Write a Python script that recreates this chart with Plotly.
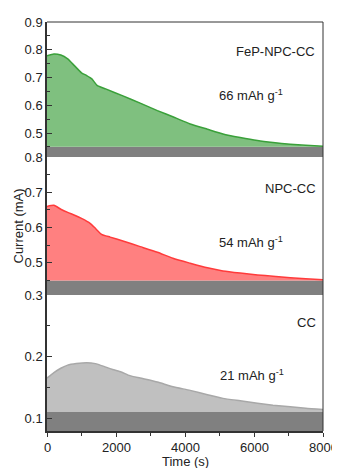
import plotly.graph_objects as go

# ---------------- data ----------------
t_fep = [0, 200, 400, 600, 800, 1000, 1150, 1300, 1450, 1700, 2200, 2700, 3200, 3700,
         4150, 4650, 5100, 5600, 6100, 6550, 7050, 7500, 8000]
i_fep = [0.778, 0.785, 0.781, 0.767, 0.742, 0.717, 0.707, 0.695, 0.672, 0.659, 0.634,
         0.608, 0.581, 0.556, 0.533, 0.514, 0.497, 0.484, 0.473, 0.466, 0.460, 0.456, 0.453]

t_npc = [0, 200, 400, 600, 800, 1000, 1250, 1400, 1580, 1830, 2200, 2700, 3200, 3650,
         4150, 4650, 5100, 5600, 6100, 6550, 7050, 7500, 8000]
i_npc = [0.660, 0.663, 0.652, 0.643, 0.635, 0.626, 0.612, 0.598, 0.581, 0.573, 0.562,
         0.546, 0.530, 0.513, 0.499, 0.486, 0.477, 0.471, 0.466, 0.462, 0.458, 0.455, 0.452]

t_cc = [0, 200, 400, 600, 850, 1150, 1400, 1650, 1900, 2150, 2400, 2700, 3200, 3650,
        4150, 4650, 5100, 5600, 6100, 6550, 7050, 7500, 8000]
i_cc = [0.165, 0.174, 0.181, 0.186, 0.1885, 0.190, 0.1885, 0.184, 0.179, 0.175, 0.169,
        0.165, 0.1585, 0.151, 0.145, 0.138, 0.132, 0.128, 0.124, 0.121, 0.1185, 0.116, 0.114]

names = ["FeP-NPC-CC", "NPC-CC", "CC"]
capacities = ["66 mAh g<sup>-1</sup>", "54 mAh g<sup>-1</sup>", "21 mAh g<sup>-1</sup>"]
y_ranges = [[0.414, 0.9], [0.409, 0.8], [0.079, 0.3]]
band_tops = [0.451, 0.450, 0.110]
x_ticks = [0, 2000, 4000, 6000, 8000]
x_tick_labels = ["0", "2000", "4000", "6000", "8000"]
x_title = "Time (s)"
y_title = "Current (mA)"

# ---------------- style ----------------
FONT = "Arial, Liberation Sans, sans-serif"
line_colors = ["#3aa03a", "#ff3b3b", "#a8a8a8"]
fill_colors = ["rgba(127,192,127,1)", "rgba(255,128,128,1)", "rgba(192,192,192,1)"]
band_color = "#808080"
axis_color = "#333333"
txt = dict(family=FONT, size=13, color="#222")
PLOT_H = 409  # plot-area height in px
PLOT_W = 276  # plot-area width in px

series = [(t_fep, i_fep), (t_npc, i_npc), (t_cc, i_cc)]
yrefs = ["y", "y2", "y3"]
domains = [[0.670, 1.0], [0.3325, 0.670], [0.0, 0.3325]]

fig = go.Figure()
shapes = []
annotations = []
for k, ((t, v), yr) in enumerate(zip(series, yrefs)):
    # invisible baseline at the band top
    fig.add_trace(go.Scatter(x=t, y=[band_tops[k]] * len(t), yaxis=yr, mode="lines",
                             line=dict(width=0, color="rgba(0,0,0,0)"),
                             hoverinfo="skip", showlegend=False))
    fig.add_trace(go.Scatter(x=t, y=v, yaxis=yr, mode="lines", name=names[k],
                             line=dict(color=line_colors[k], width=1.5, shape="spline",
                                       smoothing=0.5),
                             fill="tonexty", fillcolor=fill_colors[k], showlegend=False))
    shapes.append(dict(type="rect", xref="x", yref=yr, x0=0, x1=8000,
                       y0=y_ranges[k][0], y1=band_tops[k], fillcolor=band_color,
                       line=dict(width=0), layer="below"))

# annotation positions (data coords of each panel)
lab_pos = [(7830, 0.792), (7855, 0.712), (7855, 0.256)]
cap_pos = [(4930, 0.637), (4930, 0.559), (4950, 0.170)]
for k in range(3):
    annotations.append(dict(x=lab_pos[k][0], y=lab_pos[k][1], xref="x", yref=yrefs[k],
                            text=names[k], showarrow=False, xanchor="right",
                            yanchor="middle", font=txt))
    annotations.append(dict(x=cap_pos[k][0], y=cap_pos[k][1], xref="x", yref=yrefs[k],
                            text=capacities[k], showarrow=False, xanchor="left",
                            yanchor="middle", font=txt))

# x tick labels placed on the x scale (slightly lower than plotly's default position)
for tv, tl in zip(x_ticks, x_tick_labels):
    annotations.append(dict(x=tv, y=-16 / PLOT_H, xref="x", yref="paper", text=tl,
                            showarrow=False, xanchor="center", yanchor="middle", font=txt))

# axis titles as annotations for exact placement
annotations.append(dict(x=0.5, y=-30 / PLOT_H, xref="paper", yref="paper", text=x_title,
                        showarrow=False, xanchor="center", yanchor="middle", font=txt))
annotations.append(dict(x=-29 / PLOT_W, y=0.5, xref="paper", yref="paper", text=y_title,
                        showarrow=False, xanchor="center", yanchor="middle",
                        textangle=-90, font=txt))

# top and right frame lines
shapes.append(dict(type="line", xref="paper", yref="paper", x0=0, x1=1, y0=1, y1=1,
                   line=dict(color=axis_color, width=1)))
shapes.append(dict(type="line", xref="paper", yref="paper", x0=1, x1=1, y0=0, y1=1,
                   line=dict(color=axis_color, width=1)))

yaxis_common = dict(showgrid=False, zeroline=False, showline=True, linecolor=axis_color,
                    linewidth=1.5, ticks="inside", ticklen=5, tickcolor=axis_color,
                    tick0=0, dtick=0.1, tickformat=".1f", automargin=False,
                    minor=dict(ticks="inside", ticklen=3, dtick=0.05, tick0=0,
                               tickcolor=axis_color),
                    tickfont=txt, anchor="x")

# the page body has an 8px margin, so the figure is made 8px smaller and margins shifted
layout = dict(
    width=332, height=460,
    margin=dict(l=39, r=17, t=14, b=37),
    paper_bgcolor="white", plot_bgcolor="white",
    showlegend=False,
    xaxis=dict(range=[0, 8000], tickvals=x_ticks, showticklabels=False,
               showgrid=False, zeroline=False,
               showline=True, linecolor=axis_color, linewidth=1.5, ticks="outside",
               ticklen=4, tickcolor=axis_color, automargin=False,
               minor=dict(ticks="outside", ticklen=3, dtick=1000, tickcolor=axis_color),
               anchor="y3"),
    shapes=shapes, annotations=annotations,
)
for k in range(3):
    key = "yaxis" if k == 0 else f"yaxis{k+1}"
    ax = dict(yaxis_common)
    ax["range"] = y_ranges[k]
    ax["domain"] = domains[k]
    layout[key] = ax

fig.update_layout(**layout)
fig.write_html("out.html")
